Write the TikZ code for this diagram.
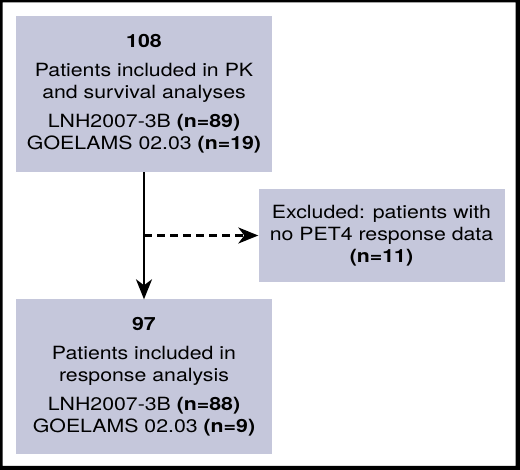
\documentclass[tikz,border=0pt]{standalone}
\usepackage{fontspec}
\setmainfont{TeX Gyre Heros}[FakeStretch=1.17]
\usetikzlibrary{arrows.meta,positioning}
\definecolor{BoxClr}{RGB}{197,199,219}

\begin{document}
\begin{tikzpicture}[x=1pt,y=-1pt,
  box/.style={fill=BoxClr,inner sep=0pt,align=center,font=\fontsize{18.2}{22}\selectfont},
  flow/.style={line width=2.5pt,-{Stealth[length=20pt,width=16pt,inset=6pt]}},
  dashflow/.style={flow,dash pattern=on 8pt off 5pt}]

\useasboundingbox (0,0) rectangle (520,470);
% frame
\fill[even odd rule] (0,0) rectangle (520,470) (2.5,2.5) rectangle (515.5,466);

% boxes
\node[box,minimum width=256pt,minimum height=156pt] (incl) at (144,94)
  {{\bfseries 108}\\[7pt]Patients included in PK\\and survival analyses\\[7pt]
   LNH2007-3B {\bfseries (n=89)}\\GOELAMS 02.03 {\bfseries (n=19)}};
\node[box,minimum width=256pt,minimum height=155pt] (resp) at (144,377)
  {{\bfseries 97}\\[7pt]Patients included in\\response analysis\\[7pt]
   LNH2007-3B {\bfseries (n=88)}\\GOELAMS 02.03 {\bfseries (n=9)}};
\node[box,minimum width=246pt,minimum height=93pt] (excl) at (381.5,235.5)
  {Excluded: patients with\\no PET4 response data\\{\bfseries (n=11)}};

% arrows
\draw[flow] (incl.south) -- (resp.north);
\coordinate (split) at (incl.south |- excl.west);
\draw[dashflow] (split) -- (excl.west);

\end{tikzpicture}
\end{document}
